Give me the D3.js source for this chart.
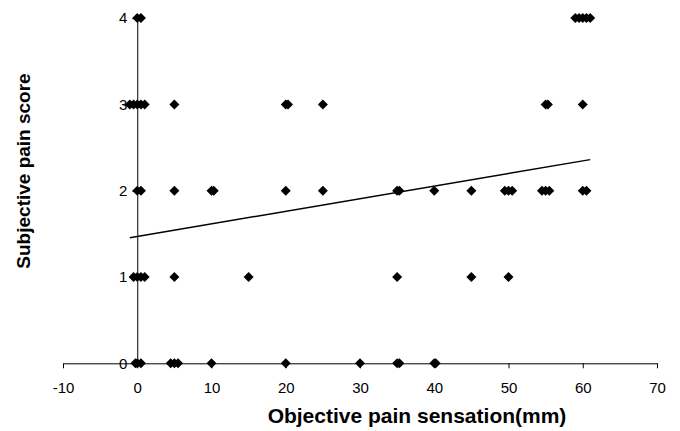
<!DOCTYPE html>
<html>
<head>
<meta charset="utf-8">
<script src="https://cdn.jsdelivr.net/npm/d3@7"></script>
<style>
  body { margin: 0; background: #fff; }
</style>
</head>
<body>
<div id="chart"></div>
<script>
var width = 680,
    height = 431;

// objective pain (mm) of each patient, grouped by subjective score
var score0 = [-0.25, 0, 0.5, 4.5, 5, 5.5, 10, 20, 30, 35, 35.3, 40, 40.2];
var score1 = [-0.5, 0, 0.5, 1, 5, 15, 35, 45, 50];
var score2 = [0, 0.5, 5, 10, 10.3, 20, 25, 35, 35.3, 40, 45, 49.5, 50, 50.5, 54.5, 55, 55.5, 60, 60.5];
var score3 = [-1, -0.5, 0, 0.5, 1, 5, 20, 20.3, 25, 55, 55.3, 60];
var score4 = [0, 0.5, 59, 59.5, 60, 60.5, 61];

// linear trendline end points
var trendX = [-1, 61];
var trendY = [1.455, 2.36];

var xTicks = [-10, 0, 10, 20, 30, 40, 50, 60, 70];
var yTicks = [0, 1, 2, 3, 4];

var points = [];
[score0, score1, score2, score3, score4].forEach(function(list, s) {
  list.forEach(function(v) { points.push({ x: v, y: s }); });
});

var svg = d3.select("#chart").append("svg")
    .attr("width", width)
    .attr("height", height)
    .style("font-family", "'Liberation Sans', Arial, sans-serif");

var x = d3.scaleLinear().domain([-10, 70]).range([63, 657]);
var y = d3.scaleLinear().domain([0, 4]).range([363.3, 18.1]);

var plain = function(d) { return String(d); };

//x axis
var xAxis = svg.append("g")
    .attr("transform", "translate(0," + y(0) + ")")
    .call(d3.axisBottom(x).tickValues(xTicks).tickFormat(plain)
      .tickSize(5).tickSizeOuter(0).tickPadding(14));
xAxis.attr("font-family", null).attr("font-size", null);
xAxis.selectAll("text").style("font-size", "15px").attr("fill", "#000");
xAxis.selectAll("line, path").attr("stroke", "#000");

//y axis
var yAxis = svg.append("g")
    .attr("transform", "translate(" + x(0) + ",0)")
    .call(d3.axisLeft(y).tickValues(yTicks).tickFormat(plain)
      .tickSize(5).tickSizeOuter(0).tickPadding(5));
yAxis.attr("font-family", null).attr("font-size", null);
yAxis.selectAll("text").style("font-size", "15px").attr("fill", "#000");
yAxis.selectAll("line, path").attr("stroke", "#000");

//trendline
var line = d3.line()
    .x(function(d) { return x(d[0]); })
    .y(function(d) { return y(d[1]); });

svg.append("path")
    .datum(d3.zip(trendX, trendY))
    .attr("d", line)
    .attr("fill", "none")
    .attr("stroke", "#000")
    .attr("stroke-width", 1.5);

//diamond markers
var diamond = d3.symbol().type(d3.symbolSquare).size(50);

svg.append("g").selectAll("path")
    .data(points)
    .enter().append("path")
    .attr("d", diamond)
    .attr("transform", function(d) { return "translate(" + x(d.x) + "," + y(d.y) + ") rotate(45)"; })
    .attr("fill", "#000");

//axis titles
svg.append("text")
    .attr("x", 417)
    .attr("y", 423)
    .attr("text-anchor", "middle")
    .attr("font-size", "21px")
    .attr("font-weight", "bold")
    .text("Objective pain sensation(mm)");

svg.append("text")
    .attr("transform", "translate(30,171) rotate(-90)")
    .attr("text-anchor", "middle")
    .attr("font-size", "19px")
    .attr("font-weight", "bold")
    .text("Subjective pain score");
</script>
</body>
</html>
